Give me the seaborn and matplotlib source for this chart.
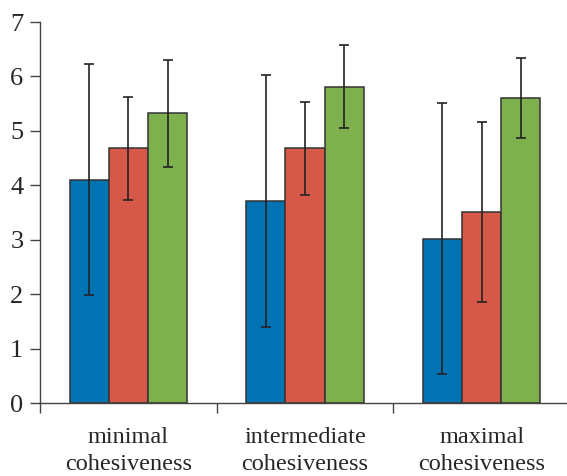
import numpy as np
import pandas as pd
import matplotlib
matplotlib.use("Agg")
import matplotlib.pyplot as plt
import seaborn as sns

# DATA
categories = ["minimal\ncohesiveness", "intermediate\ncohesiveness", "maximal\ncohesiveness"]
series = ["series 1", "series 2", "series 3"]
means_s1 = [4.10, 3.71, 3.02]
means_s2 = [4.68, 4.68, 3.51]
means_s3 = [5.32, 5.81, 5.60]
err_s1 = [2.12, 2.31, 2.49]
err_s2 = [0.95, 0.85, 1.66]
err_s3 = [0.99, 0.76, 0.74]
colors = ["#0173b2", "#d65849", "#7fb04e"]

means = [means_s1, means_s2, means_s3]
errs = [err_s1, err_s2, err_s3]

df = pd.DataFrame({
    "category": np.tile(categories, len(series)),
    "series": np.repeat(series, len(categories)),
    "value": np.concatenate(means),
})

sns.set_style("ticks")
plt.rcParams["font.family"] = ["Liberation Serif", "DejaVu Serif"]

fig = plt.figure(figsize=(5.67, 4.76), dpi=100)
ax = fig.add_axes([40 / 567, 73 / 476, 530 / 567, 381 / 476])

sns.barplot(data=df, x="category", y="value", hue="series", order=categories,
            hue_order=series, palette=colors, saturation=1, width=0.666,
            errorbar=None, edgecolor="#333333", linewidth=1.1, legend=False, ax=ax)

# error bars at the bar centres seaborn laid out
for container, err in zip(ax.containers, errs):
    xs = [p.get_x() + p.get_width() / 2 for p in container]
    ys = [p.get_height() for p in container]
    ax.errorbar(xs, ys, yerr=err, fmt="none", ecolor="#222222",
                elinewidth=1.2, capsize=3.6, capthick=1.2, zorder=5)

ax.set_xlim(-0.5, 2.5)
ax.set_ylim(0, 7)
ax.set_yticks(range(0, 8))
ax.set_xlabel("")
ax.set_ylabel("")

ax.set_xticks([0, 1, 2])
ax.set_xticks([-0.5, 0.5, 1.5, 2.5], minor=True)
ax.tick_params(axis="x", which="major", length=0, pad=17, labelsize=17.5)
ax.tick_params(axis="x", which="minor", length=7, width=1, color="#444444", direction="out")
ax.tick_params(axis="y", length=7, width=1, color="#444444", pad=5, labelsize=19)
for lbl in ax.get_xticklabels():
    lbl.set_linespacing(1.4)

sns.despine(ax=ax)
for s in ["left", "bottom"]:
    ax.spines[s].set_color("#444444")
    ax.spines[s].set_linewidth(1)

fig.savefig("out.png", dpi=100)
